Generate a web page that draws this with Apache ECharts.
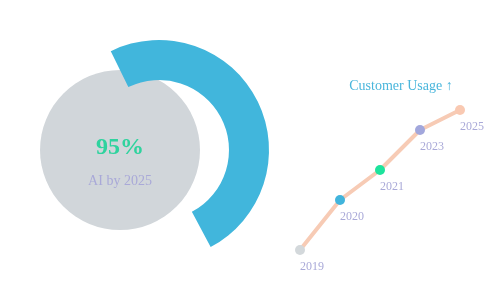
<!DOCTYPE html>
<html><head><meta charset="utf-8">
<script src="https://cdn.jsdelivr.net/npm/echarts@6/dist/echarts.min.js"></script>
<style>html,body{margin:0;padding:0;background:#fff}#c{width:500px;height:300px}</style>
</head><body><div id="c"></div>
<script>
const years = ['2019', '2020', '2021', '2023', '2025'];
const usage = [10, 35, 50, 70, 80];
const pointColors = ['#d3d8db', '#41b4dc', '#1de39c', '#a2a7dc', '#f9c9b2'];
const arcDegrees = [178, 182];
const headline = '95%';
const subline = 'AI by 2025';
const lineTitle = 'Customer Usage ↑';

const font = '"Liberation Serif", "DejaVu Serif", serif';
const chart = echarts.init(document.getElementById('c'), null, {renderer: 'canvas'});
chart.setOption({
  animation: false,
  textStyle: {fontFamily: font},
  title: {
    text: lineTitle, left: 396, top: 74, textAlign: 'center',
    textStyle: {color: '#4ab6dc', fontSize: 14, fontWeight: 'normal', fontFamily: font}
  },
  grid: {left: 300, width: 160, top: 70, height: 200},
  xAxis: {type: 'category', data: years, boundaryGap: false, show: false},
  yAxis: {type: 'value', min: 0, max: 100, show: false},
  series: [
    {
      type: 'pie', center: [120, 150], radius: [0, 80], silent: true, z: 1,
      label: {show: false}, labelLine: {show: false},
      data: [{value: 1, itemStyle: {color: '#d1d6da'}}]
    },
    {
      type: 'pie', center: [159, 150], radius: [70, 110], startAngle: 116, clockwise: true,
      silent: true, z: 2, label: {show: false}, labelLine: {show: false},
      data: [
        {value: arcDegrees[0], itemStyle: {color: '#41b6dc'}},
        {value: arcDegrees[1], itemStyle: {color: 'rgba(0,0,0,0)'}}
      ]
    },
    {
      type: 'line', data: usage.map((v, i) => ({value: v, itemStyle: {color: pointColors[i]}})),
      symbol: 'circle', symbolSize: 10, z: 3,
      lineStyle: {color: '#f7cbb5', width: 4},
      label: {
        show: true, position: 'bottom', offset: [12, 1], distance: 5,
        formatter: p => years[p.dataIndex],
        color: '#a9a9d8', fontSize: 12, fontFamily: font
      }
    }
  ],
  graphic: [
    {type: 'text', x: 120, y: 148, z: 100, style: {text: headline, fill: '#2fd39e', font: 'bold 24px ' + font, textAlign: 'center', textVerticalAlign: 'middle'}},
    {type: 'text', x: 120, y: 181, z: 100, style: {text: subline, fill: '#a9a9d8', font: '14px ' + font, textAlign: 'center', textVerticalAlign: 'middle'}}
  ]
});
</script></body></html>
